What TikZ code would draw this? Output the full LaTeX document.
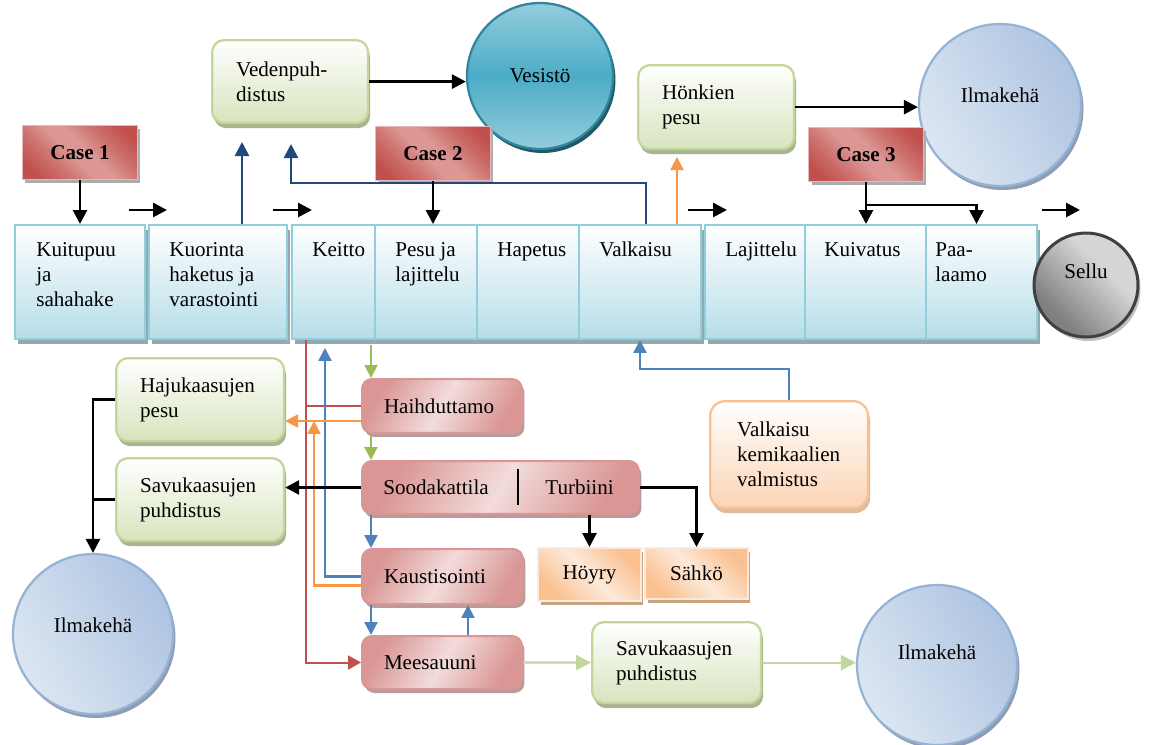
\documentclass[tikz,border=0pt]{standalone}
\usepackage{fontspec}
\setmainfont{Liberation Serif}
\usetikzlibrary{shadows,arrows.meta}

% palette
\definecolor{rowline}{HTML}{92CDDC}
\definecolor{rowfill}{HTML}{B6DDE8}
\definecolor{rowshade}{HTML}{93A9B2}
\definecolor{casedark}{HTML}{C0504D}
\definecolor{casemid}{HTML}{CF7573}
\definecolor{caselight}{HTML}{DC9795}
\definecolor{caseline}{HTML}{E6B9B8}
\definecolor{greenline}{HTML}{C3D69B}
\definecolor{greenfill}{HTML}{D7E4BD}
\definecolor{greenshade}{HTML}{A9B491}
\definecolor{pinkdark}{HTML}{D99694}
\definecolor{pinklight}{HTML}{F2DCDB}
\definecolor{pinkshade}{HTML}{B89C9B}
\definecolor{orgdark}{HTML}{FAC090}
\definecolor{orglight}{HTML}{FDE9D9}
\definecolor{orgfill}{HTML}{FBD4B4}
\definecolor{orgshade}{HTML}{C9A27F}
\definecolor{skyline}{HTML}{95B3D7}
\definecolor{skydark}{HTML}{AEC4E1}
\definecolor{skylight}{HTML}{DCE6F2}
\definecolor{skyshade}{HTML}{8E9DB2}
\definecolor{tealdark}{HTML}{4BACC6}
\definecolor{teallight}{HTML}{93CDDD}
\definecolor{tealline}{HTML}{31859C}
\definecolor{tealshade}{HTML}{215968}
\definecolor{greydark}{HTML}{808080}
\definecolor{greylight}{HTML}{D6D6D6}
\definecolor{arrdblue}{HTML}{1F497D}
\definecolor{arrblue}{HTML}{4F81BD}
\definecolor{arrred}{HTML}{C0504D}
\definecolor{arrorange}{HTML}{F79646}
\definecolor{arrgreen}{HTML}{9BBB59}
\definecolor{arrlgreen}{HTML}{C3D69B}

\pgfdeclarehorizontalshading{diagred}{100bp}{color(0bp)=(casedark); color(22bp)=(casedark); color(36bp)=(casemid); color(46bp)=(caselight); color(54bp)=(caselight); color(64bp)=(casemid); color(78bp)=(casedark); color(100bp)=(casedark)}
\pgfdeclarehorizontalshading{diagpink}{100bp}{color(0bp)=(pinkdark); color(25bp)=(pinkdark); color(50bp)=(pinklight); color(75bp)=(pinkdark); color(100bp)=(pinkdark)}
\pgfdeclarehorizontalshading{diagorange}{100bp}{color(0bp)=(orgdark); color(25bp)=(orgdark); color(50bp)=(orglight); color(75bp)=(orgdark); color(100bp)=(orgdark)}
\pgfdeclarehorizontalshading{greyball}{100bp}{color(0bp)=(greydark); color(30bp)=(greydark); color(62bp)=(greylight); color(100bp)=(greylight)}

\tikzset{
  rowbox/.style={anchor=north west, draw=rowline, line width=0.04cm, top color=white,
    bottom color=rowfill, inner sep=0pt,
    drop shadow={shadow xshift=0.06cm, shadow yshift=-0.1cm, fill=rowshade, opacity=1}},
  % anchored on the baseline of the last line
  rowtext/.style={anchor=base west, align=left, inner sep=0pt},
  casebox/.style={anchor=north west, draw=caseline, line width=0.02cm, shading=diagred,
    shading angle=45, inner sep=0pt, font=\fontsize{12}{14.2}\selectfont\bfseries,
    minimum width=2.3cm, minimum height=1.08cm,
    drop shadow={shadow xshift=0.06cm, shadow yshift=-0.07cm, fill=gray!65, opacity=1}},
  greenbox/.style={anchor=north west, draw=greenline, line width=0.045cm, rounded corners=0.24cm,
    top color=white, bottom color=greenfill, align=left, inner xsep=0.48cm, inner ysep=0pt,
    drop shadow={shadow xshift=0.04cm, shadow yshift=-0.1cm, fill=greenshade, opacity=1}},
  pinkbox/.style={anchor=north west, draw=pinkdark, line width=0.04cm, rounded corners=0.2cm,
    shading=diagpink, shading angle=-30, align=left, inner xsep=0.44cm, inner ysep=0pt,
    drop shadow={shadow xshift=0.05cm, shadow yshift=-0.08cm, fill=pinkshade, opacity=1}},
  orgbox/.style={anchor=north west, draw=orglight, line width=0.04cm, shading=diagorange,
    shading angle=45, inner sep=0pt,
    drop shadow={shadow xshift=0.05cm, shadow yshift=-0.08cm, fill=orgshade, opacity=1}},
  orground/.style={anchor=north west, draw=orgdark, line width=0.045cm, rounded corners=0.3cm,
    top color=white, bottom color=orgfill, align=left, inner xsep=0.54cm, inner ysep=0pt,
    drop shadow={shadow xshift=0.04cm, shadow yshift=-0.1cm, fill=orgshade!70, opacity=1}},
  skyball/.style={circle, draw=skyline, line width=0.045cm, left color=skylight,
    right color=skydark, shading angle=120, inner sep=0pt, minimum size=3.2cm,
    drop shadow={shadow xshift=0.05cm, shadow yshift=-0.08cm, fill=skyshade, opacity=1}},
  tip/.style={-{Triangle[length=0.28cm,width=0.28cm]}},
  blk/.style={draw=black, line width=0.055cm, tip},
  blkline/.style={draw=black, line width=0.055cm},
  dbl/.style={draw=arrdblue, line width=0.05cm, tip},
  mbl/.style={draw=arrblue, line width=0.045cm, -{Triangle[length=0.26cm,width=0.26cm]}},
  redarr/.style={draw=arrred, line width=0.04cm, -{Triangle[length=0.26cm,width=0.28cm]}},
  redline/.style={draw=arrred, line width=0.035cm},
  orgarr/.style={draw=arrorange, line width=0.045cm, -{Triangle[length=0.26cm,width=0.26cm]}},
  grnarr/.style={draw=arrgreen, line width=0.04cm, -{Triangle[length=0.26cm,width=0.26cm]}},
  lgrn/.style={draw=arrlgreen, line width=0.045cm, -{Triangle[length=0.3cm,width=0.3cm]}},
}

\begin{document}
\begin{tikzpicture}[x=0.02cm, y=-0.02cm, font=\fontsize{12}{14.2}\selectfont]
\fill[white] (0,0) rectangle (1152,744);
\useasboundingbox (0,0) rectangle (1152,744);

% ---------- main process line ----------
\node[rowbox, minimum width=2.6cm,  minimum height=2.28cm] (b1) at (14,224) {};
\node[rowbox, minimum width=2.76cm, minimum height=2.28cm] (b2) at (148,224) {};
\node[rowbox, minimum width=1.66cm, minimum height=2.28cm] (b3) at (291,224) {};
\node[rowbox, minimum width=2.04cm, minimum height=2.28cm] (b4) at (374,224) {};
\node[rowbox, minimum width=2.04cm, minimum height=2.28cm] (b5) at (476,224) {};
\node[rowbox, minimum width=2.44cm, minimum height=2.28cm] (b6) at (578,224) {};
\node[rowbox, minimum width=2.0cm,  minimum height=2.28cm] (b7) at (704,224) {};
\node[rowbox, minimum width=2.42cm, minimum height=2.28cm] (b8) at (804,224) {};
\node[rowbox, minimum width=2.22cm, minimum height=2.28cm] (b9) at (925,224) {};

\node[rowtext] (t1) at (36,306)  {Kuitupuu\\ja\\sahahake};
\node[rowtext] (t2) at (169,306) {Kuorinta\\haketus ja\\varastointi};
\node[rowtext] (t3) at (312,256) {Keitto};
\node[rowtext] (t4) at (395,281) {Pesu ja\\lajittelu};
\node[rowtext] (t5) at (497,256) {Hapetus};
\node[rowtext] (t6) at (599,256) {Valkaisu};
\node[rowtext] (t7) at (725,256) {Lajittelu};
\node[rowtext] (t8) at (824,256) {Kuivatus};
\node[rowtext] (t9) at (935,281) {Paa-\\laamo};

\node[circle, draw=black!75, line width=0.06cm, shading=greyball, shading angle=45,
      inner sep=0pt, minimum size=2.08cm,
      drop shadow={shadow xshift=0.05cm, shadow yshift=-0.08cm, fill=black!25, opacity=1},
      label={[yshift=0.28cm]center:Sellu}] (sel) at (1086,285) {};

% flow arrows along the line
\coordinate (f1a) at (129,210);  \coordinate (f1b) at (167,210);
\coordinate (f2a) at (273,210);  \coordinate (f2b) at (312,210);
\coordinate (f3a) at (688,210);  \coordinate (f3b) at (727,210);
\coordinate (f4a) at (1042,210); \coordinate (f4b) at (1080,210);
\draw[blk] (f1a) -- (f1b);
\draw[blk] (f2a) -- (f2b);
\draw[blk] (f3a) -- (f3b);
\draw[blk] (f4a) -- (f4b);

% ---------- upper row ----------
\node[greenbox, minimum width=3.12cm, minimum height=1.66cm, text width=2.16cm] (ved) at (211,39) {Vedenpuh-\\distus};
\node[greenbox, minimum width=3.12cm, minimum height=1.68cm, text width=2.16cm] (hon) at (637,64) {Hönkien\\pesu};

\node[circle, draw=tealline, line width=0.045cm, top color=teallight, bottom color=teallight,
      middle color=tealdark, inner sep=0pt, minimum size=2.92cm,
      drop shadow={shadow xshift=0.05cm, shadow yshift=-0.08cm, fill=tealshade, opacity=1}]
      (ves) at (540,76) {Vesistö};
\node[skyball, minimum size=3.24cm, label={[yshift=0.2cm]center:Ilmakehä}] (ilm1) at (1000,105) {};

\node[casebox] (c1) at (22,125)  {Case 1};
\node[casebox] (c2) at (375,126) {Case 2};
\node[casebox] (c3) at (808,127) {Case 3};

\draw[blk] (ved.east) -- (ved.east -| ves.west);
\draw[blk] (hon.east) -- (hon.east -| ilm1.west);

\coordinate (vedin1) at (242,142);
\coordinate (vedin2) at (291,144);
\coordinate (vj) at (646,183);
\coordinate (honin) at (677,157);
\draw[dbl] (vedin1 |- b2.north) -- (vedin1);
\draw[dbl] (vj |- b6.north) -- (vj) -| (vedin2);
\draw[orgarr] (honin |- b6.north) -- (honin);

\draw[blk] (c1.south) -- (c1.south |- b1.north);
\draw[blk] (c2.south) -- (c2.south |- b4.north);
\draw[blk] (c3.south) -- (c3.south |- b8.north);
\draw[blk] ([yshift=-0.46cm]c3.south) -| ([xshift=-0.1cm]b9.north);

% ---------- chemical recovery ----------
\node[pinkbox, minimum width=3.2cm, minimum height=1.08cm, text width=2.32cm] (h1) at (361,378) {Haihduttamo};
\node[pinkbox, minimum width=5.54cm, minimum height=1.06cm] (s1) at (361,460) {};
\node[anchor=west, inner sep=0pt] (s1a) at (383,487) {Soodakattila};
\node[anchor=west, inner sep=0pt] (s1b) at (545,487) {Turbiini};
\draw[black, line width=0.04cm] (518,469) -- (518,505);
\node[pinkbox, minimum width=3.22cm, minimum height=1.1cm, text width=2.34cm] (k1) at (361,548) {Kaustisointi};
\node[pinkbox, minimum width=3.2cm, minimum height=1.06cm, text width=2.32cm] (m1) at (361,635) {Meesauuni};

\node[orgbox, minimum width=2.06cm, minimum height=1.06cm] (hoy) at (537,547) {Höyry};
\node[orgbox, minimum width=2.06cm, minimum height=1.02cm] (sah) at (644,547) {Sähkö};

\node[orground, minimum width=3.16cm, minimum height=2.14cm, text width=2.08cm] (vk) at (709,400) {Valkaisu\\kemikaalien\\valmistus};

\node[greenbox, minimum width=3.36cm, minimum height=1.66cm, text width=2.4cm] (haju) at (115,357) {Hajukaasujen\\pesu};
\node[greenbox, minimum width=3.36cm, minimum height=1.66cm, text width=2.4cm] (savu1) at (115,457) {Savukaasujen\\puhdistus};
\node[greenbox, minimum width=3.38cm, minimum height=1.62cm, text width=2.42cm] (savu2) at (591,621) {Savukaasujen\\puhdistus};

\node[skyball, label={[yshift=0.18cm]center:Ilmakehä}] (ilm2) at (93,634) {};
\node[skyball, label={[yshift=0.26cm]center:Ilmakehä}] (ilm3) at (937,665) {};

% connectors of the recovery section
\coordinate (rx) at ([xshift=0.3cm]b3.south west);
\coordinate (bx) at ([xshift=0.68cm,yshift=-0.16cm]b3.south west);
\coordinate (oh) at ([yshift=-0.3cm]h1.west);
\coordinate (ox) at ([xshift=-0.94cm]oh);
\coordinate (gx) at ([xshift=0.2cm]h1.north west);
\coordinate (ux) at ([xshift=2.14cm]m1.north west);

\draw[redarr] (rx) |- (m1.west);
\draw[redline] (rx |- h1.west) -- (h1.west);
\draw[mbl] (k1.west) -| (bx);
\draw[orgarr] (oh) -- (oh -| haju.east);
\draw[orgarr] ([yshift=-0.18cm]k1.west) -| (ox);

\draw[grnarr] ([yshift=-0.1cm]gx |- b3.south) -- (gx);
\draw[grnarr] (gx |- h1.south) -- (gx |- s1.north);
\draw[mbl] (gx |- s1.south) -- (gx |- k1.north);
\draw[mbl] (gx |- k1.south) -- (gx |- m1.north);
\draw[mbl] (ux) -- (ux |- k1.south);

\draw[blk] (s1.west) -- (s1.west -| savu1.east);
\draw[blk] (s1.south -| hoy.north) -- (hoy.north);
\draw[blk] (s1.east) -| (sah.north);

\draw[mbl] (vk.north) -- ++(0,-31) -| (b6.south);

\draw[blk] (haju.west) -| (ilm2.north);
\draw[blkline] (savu1.west) -- (savu1.west -| ilm2.north);

\draw[lgrn] (m1.east) -- (savu2.west);
\draw[lgrn] (savu2.east) -- (savu2.east -| ilm3.west);
\end{tikzpicture}
\end{document}
